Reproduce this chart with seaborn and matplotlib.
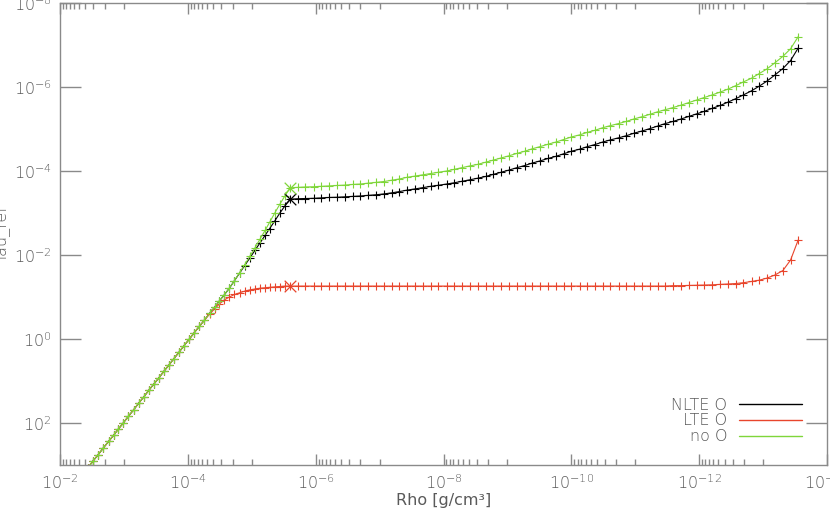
import numpy as np
import pandas as pd
import matplotlib
matplotlib.use("Agg")
import matplotlib.pyplot as plt
import seaborn as sns
from matplotlib import font_manager
from matplotlib.ticker import FixedLocator, LogFormatterMathtext, NullFormatter, NullLocator
from matplotlib.lines import Line2D

# ---------------- data (log10 values) ----------------
log_rho = [
    -2.44, -2.52, -2.60, -2.68, -2.76, -2.84, -2.91, -2.99, -3.07, -3.15,
    -3.23, -3.31, -3.39, -3.47, -3.55, -3.63, -3.70, -3.78, -3.86, -3.94,
    -4.02, -4.10, -4.18, -4.26, -4.34, -4.42, -4.49, -4.57, -4.65, -4.73,
    -4.81, -4.89, -4.97, -5.05, -5.13, -5.21, -5.28, -5.36, -5.44, -5.52,
    -5.60,
    -5.72, -5.84, -5.97, -6.09, -6.21, -6.33, -6.46, -6.58, -6.70, -6.82,
    -6.95, -7.07, -7.19, -7.31, -7.43, -7.56, -7.68, -7.80, -7.92, -8.05,
    -8.17, -8.29, -8.41, -8.54, -8.66, -8.78, -8.90, -9.02, -9.15, -9.27,
    -9.39, -9.51, -9.64, -9.76, -9.88, -10.00, -10.13, -10.25, -10.37, -10.49,
    -10.61, -10.74, -10.86, -10.98, -11.10, -11.23, -11.35, -11.47, -11.59, -11.72,
    -11.84, -11.96, -12.08, -12.20, -12.33, -12.45, -12.57, -12.69, -12.82, -12.94,
    -13.06, -13.18, -13.31, -13.43, -13.55,
]

log_tau_nlte = [
    3.06, 2.90, 2.75, 2.59, 2.44, 2.29, 2.15, 2.00, 1.84, 1.69,
    1.53, 1.38, 1.22, 1.07, 0.92, 0.76, 0.63, 0.47, 0.32, 0.16,
    0.01, -0.15, -0.30, -0.45, -0.61, -0.76, -0.90, -1.05, -1.21, -1.39,
    -1.57, -1.75, -1.93, -2.11, -2.29, -2.47, -2.63, -2.81, -3.00, -3.17,
    -3.33,
    -3.34, -3.345, -3.35, -3.36, -3.37, -3.375, -3.385, -3.395, -3.405, -3.42,
    -3.435, -3.455, -3.48, -3.51, -3.545, -3.575, -3.605, -3.635, -3.66, -3.69,
    -3.72, -3.755, -3.79, -3.83, -3.87, -3.92, -3.97, -4.02, -4.08, -4.13,
    -4.19, -4.24, -4.30, -4.35, -4.41, -4.47, -4.52, -4.58, -4.63, -4.69,
    -4.74, -4.79, -4.84, -4.90, -4.95, -5.01, -5.07, -5.13, -5.18, -5.24,
    -5.30, -5.36, -5.42, -5.49, -5.56, -5.64, -5.72, -5.81, -5.91, -6.02,
    -6.14, -6.28, -6.44, -6.63, -6.93,
]

log_tau_lte = [
    3.06, 2.90, 2.75, 2.59, 2.44, 2.29, 2.15, 2.00, 1.84, 1.69,
    1.53, 1.38, 1.22, 1.07, 0.92, 0.76, 0.63, 0.47, 0.32, 0.16,
    0.01, -0.15, -0.30, -0.45, -0.59, -0.72, -0.83, -0.93, -1.00, -1.06,
    -1.10, -1.14, -1.17, -1.19, -1.21, -1.22, -1.23, -1.24, -1.25, -1.26,
    -1.26,
    -1.26, -1.26, -1.26, -1.26, -1.26, -1.26, -1.26, -1.26, -1.26, -1.26,
    -1.26, -1.26, -1.26, -1.26, -1.26, -1.26, -1.26, -1.26, -1.26, -1.26,
    -1.26, -1.26, -1.26, -1.26, -1.26, -1.26, -1.26, -1.26, -1.26, -1.26,
    -1.26, -1.26, -1.26, -1.26, -1.26, -1.26, -1.26, -1.26, -1.26, -1.26,
    -1.26, -1.26, -1.26, -1.26, -1.26, -1.26, -1.26, -1.26, -1.27, -1.27,
    -1.275, -1.28, -1.285, -1.29, -1.30, -1.31, -1.32, -1.34, -1.37, -1.40,
    -1.45, -1.52, -1.63, -1.88, -2.36,
]

log_tau_no_o = [
    3.06, 2.90, 2.75, 2.59, 2.44, 2.29, 2.15, 2.00, 1.84, 1.69,
    1.53, 1.38, 1.22, 1.07, 0.92, 0.76, 0.63, 0.47, 0.32, 0.16,
    0.01, -0.15, -0.30, -0.45, -0.61, -0.76, -0.90, -1.05, -1.21, -1.39,
    -1.58, -1.77, -1.97, -2.17, -2.38, -2.59, -2.78, -3.00, -3.21, -3.41,
    -3.60,
    -3.61, -3.62, -3.625, -3.635, -3.645, -3.655, -3.665, -3.68, -3.69, -3.71,
    -3.73, -3.75, -3.78, -3.81, -3.85, -3.88, -3.91, -3.94, -3.97, -4.00,
    -4.04, -4.08, -4.12, -4.16, -4.21, -4.26, -4.31, -4.36, -4.42, -4.47,
    -4.53, -4.58, -4.64, -4.69, -4.75, -4.81, -4.86, -4.92, -4.97, -5.03,
    -5.08, -5.13, -5.18, -5.24, -5.29, -5.35, -5.41, -5.46, -5.51, -5.57,
    -5.63, -5.69, -5.75, -5.81, -5.88, -5.95, -6.03, -6.12, -6.21, -6.32,
    -6.43, -6.57, -6.73, -6.91, -7.20,
]

KINK = 40  # index of the junction point (marked with a big x)

series_labels = ["NLTE O", "LTE O", "no O"]
series_values = [log_tau_nlte, log_tau_lte, log_tau_no_o]
series_colors = ["#000000", "#E8452C", "#7FD63A"]

x_major = [1e-2, 1e-4, 1e-6, 1e-8, 1e-10, 1e-12, 1e-14]
y_major = [1e-8, 1e-6, 1e-4, 1e-2, 1e0, 1e2]

# ---------------- style ----------------
sns.set_style("white")


def pick_font():
    prefs = ["DejaVu Sans", "Roboto", "Lato", "Open Sans", "Noto Sans", "Inter"]
    best = None
    for name in prefs:
        for f in font_manager.fontManager.ttflist:
            if f.name != name or f.style != "normal":
                continue
            w = f.weight
            if isinstance(w, str):
                w = font_manager.weight_dict.get(w, 400)
            if w <= 300:
                if best is None or w > best[1]:
                    best = (name, w)
        if best is not None:
            return best
    return ("DejaVu Sans", 400)


fam, wt = pick_font()
plt.rcParams["font.family"] = [fam, "DejaVu Sans"]
plt.rcParams["font.weight"] = wt
plt.rcParams["mathtext.default"] = "regular"

axc = "#8a8a8a"
txtc = "#5a5a5a"

fig = plt.figure(figsize=(8.30, 5.22), dpi=100)
fig.patch.set_facecolor("white")
ax = fig.add_axes([60 / 830, 57 / 522, 767 / 830, 462 / 522])
ax.set_xscale("log")
ax.set_yscale("log")

df = pd.DataFrame({"rho": np.power(10.0, log_rho)})
for lab, vals in zip(series_labels, series_values):
    df[lab] = np.power(10.0, vals)

for lab, col in zip(series_labels, series_colors):
    sns.lineplot(data=df, x="rho", y=lab, ax=ax, color=col, marker="+",
                 markersize=5.5, markeredgewidth=0.8, markeredgecolor=col,
                 linewidth=0.8, sort=False, estimator=None, legend=False)
    kink = df.iloc[[KINK]]
    sns.scatterplot(data=kink, x="rho", y=lab, ax=ax, color=col, marker="x",
                    s=70, linewidth=0.9, legend=False, zorder=5)

ax.set_xlim(1e-2, 1e-14)
ax.set_ylim(1e3, 1e-8)

# x ticks: major every 2 decades, minor at k*10^odd
x_minor = []
for e in [-3, -5, -7, -9, -11, -13]:
    for k in range(1, 10):
        x_minor.append(k * 10.0 ** e)
ax.xaxis.set_major_locator(FixedLocator(x_major))
ax.xaxis.set_minor_locator(FixedLocator(x_minor))
ax.xaxis.set_major_formatter(LogFormatterMathtext())
ax.xaxis.set_minor_formatter(NullFormatter())
ax.yaxis.set_major_locator(FixedLocator(y_major))
ax.yaxis.set_minor_locator(NullLocator())
ax.yaxis.set_major_formatter(LogFormatterMathtext())

ax.tick_params(axis="x", which="major", direction="in", length=8, width=1,
               top=True, bottom=True, color=axc, pad=6, labelsize=11.5,
               labelcolor=txtc)
ax.tick_params(axis="x", which="minor", direction="in", length=4, width=1,
               top=True, bottom=True, color=axc)
ax.tick_params(axis="y", which="major", direction="in", length=15, width=1,
               left=True, right=True, color=axc, pad=6, labelsize=11.5,
               labelcolor=txtc)

for s in ax.spines.values():
    s.set_color(axc)
    s.set_linewidth(1.0)
    s.set_visible(True)

ax.set_xlabel("Rho [g/cm³]", fontsize=11.5, color=txtc, labelpad=1)
ax.set_ylabel("")
fig.text(2 / 830, 1 - 234 / 522, "Tau_ref", rotation=90, ha="center",
         va="center", fontsize=11.5, color=txtc)

handles = [Line2D([0], [0], color=c, linewidth=1.0) for c in series_colors]
leg = ax.legend(handles, series_labels, loc="lower right",
                bbox_to_anchor=(0.967, 0.045), frameon=False, markerfirst=False,
                handlelength=3.9, handletextpad=0.75, labelspacing=0.05,
                borderpad=0, borderaxespad=0, fontsize=11.5, labelcolor=txtc)

fig.savefig("out.png", dpi=100, facecolor="white")
